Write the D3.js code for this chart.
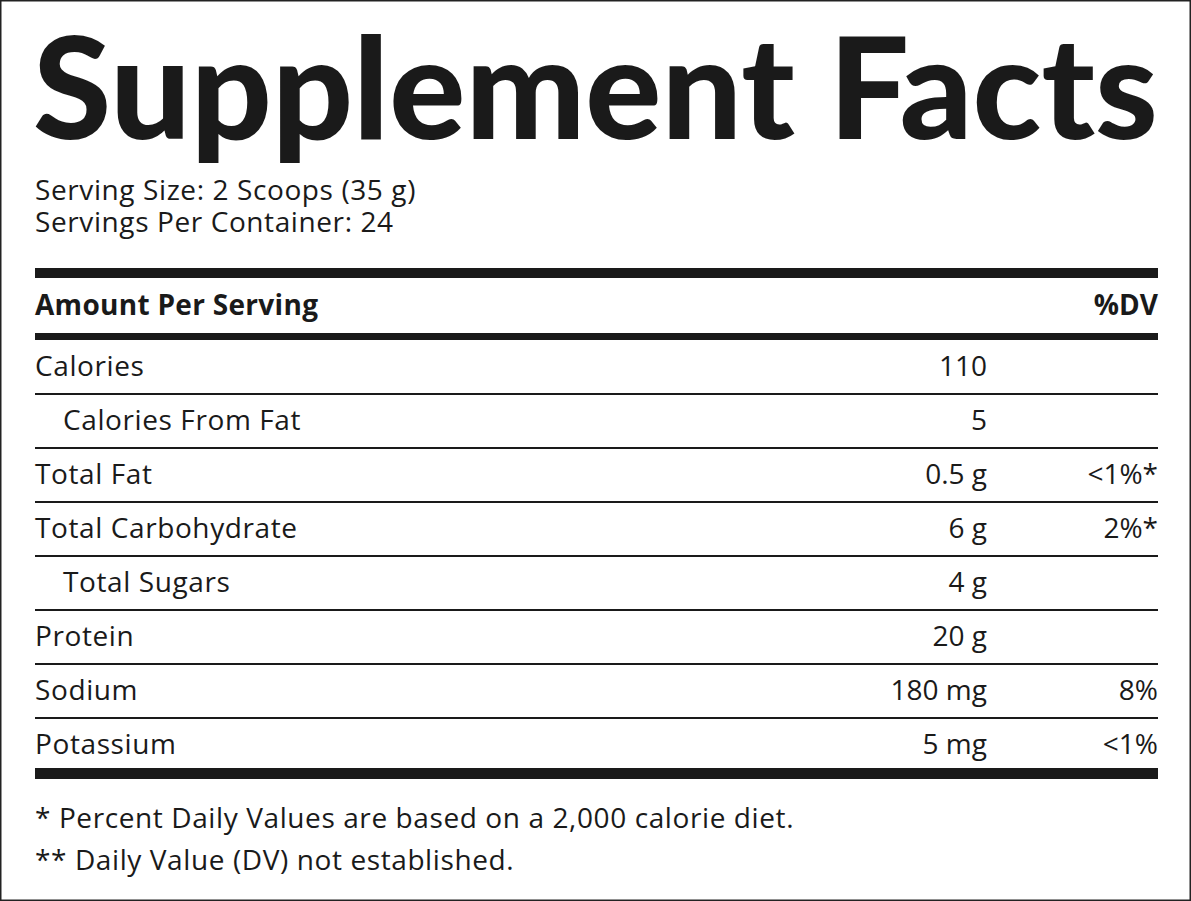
<!DOCTYPE html>
<html><head><meta charset="utf-8">
<script src="https://cdn.jsdelivr.net/npm/d3@7"></script>
<style>body{margin:0;background:#fff}</style>
</head><body>
<div id="label"></div>
<script>
var width = 1191, height = 901;
var left = 35, right = 1158, amtX = 987;

var title = "Supplement Facts";
var servingLines = ["Serving Size: 2 Scoops (35 g)", "Servings Per Container: 24"];
var nutrients = ["Calories", "Calories From Fat", "Total Fat", "Total Carbohydrate", "Total Sugars", "Protein", "Sodium", "Potassium"];
var indented = [false, true, false, false, true, false, false, false];
var amounts = ["110", "5", "0.5 g", "6 g", "4 g", "20 g", "180 mg", "5 mg"];
var dvs = ["", "", "<1%*", "2%*", "", "", "8%", "<1%"];
var footnotes = ["* Percent Daily Values are based on a 2,000 calorie diet.", "** Daily Value (DV) not established."];

var font = "'Open Sans', sans-serif";
var svg = d3.select("#label").append("svg").attr("width", width).attr("height", height);

svg.append("rect").attr("x", 0.5).attr("y", 0.5).attr("width", width - 1).attr("height", height - 1)
  .attr("fill", "#fff").attr("stroke", "#222").attr("stroke-width", 2);

svg.append("text").attr("x", left - 2).attr("y", 139).attr("font-family", "Lato, sans-serif")
  .attr("font-weight", 900).attr("font-size", 142).attr("fill", "#1a1a1a")
  .attr("textLength", right - left + 2).attr("lengthAdjust", "spacingAndGlyphs").text(title);

function txt(sel) {
  return sel.attr("font-family", font).attr("font-size", 28).attr("letter-spacing", 0.6).attr("fill", "#1a1a1a");
}

txt(svg.selectAll(".serv").data(servingLines).enter().append("text")
  .attr("x", left).attr("y", (d, i) => 200 + i * 32)).text(d => d);

function rule(y, h) {
  svg.append("rect").attr("x", left).attr("y", y).attr("width", right - left).attr("height", h).attr("fill", "#1a1a1a");
}
rule(268, 10);
txt(svg.append("text").attr("x", left).attr("y", 315)).attr("font-weight", 700).attr("letter-spacing", 0.3).text("Amount Per Serving");
txt(svg.append("text").attr("x", right).attr("y", 315).attr("text-anchor", "end")).attr("font-weight", 700).attr("letter-spacing", 0).text("%DV");
rule(333, 7);

var y = d3.scaleBand().domain(nutrients).range([340, 772]);
var rows = svg.selectAll(".row").data(nutrients).enter().append("g")
  .attr("transform", d => `translate(0,${y(d)})`);
txt(rows.append("text").attr("x", (d, i) => indented[i] ? left + 28 : left).attr("y", 36)).text(d => d);
txt(rows.append("text").attr("x", amtX).attr("y", 36).attr("text-anchor", "end")).attr("letter-spacing", 0).text((d, i) => amounts[i]);
txt(rows.append("text").attr("x", right).attr("y", 36).attr("text-anchor", "end")).attr("letter-spacing", 0).text((d, i) => dvs[i]);
rows.filter((d, i) => i < nutrients.length - 1).append("line")
  .attr("x1", left).attr("x2", right).attr("y1", y.bandwidth()).attr("y2", y.bandwidth())
  .attr("stroke", "#1a1a1a").attr("stroke-width", 2);
rule(768, 11);

txt(svg.selectAll(".foot").data(footnotes).enter().append("text")
  .attr("x", left).attr("y", (d, i) => 828 + i * 42)).text(d => d);
</script>
</body></html>
